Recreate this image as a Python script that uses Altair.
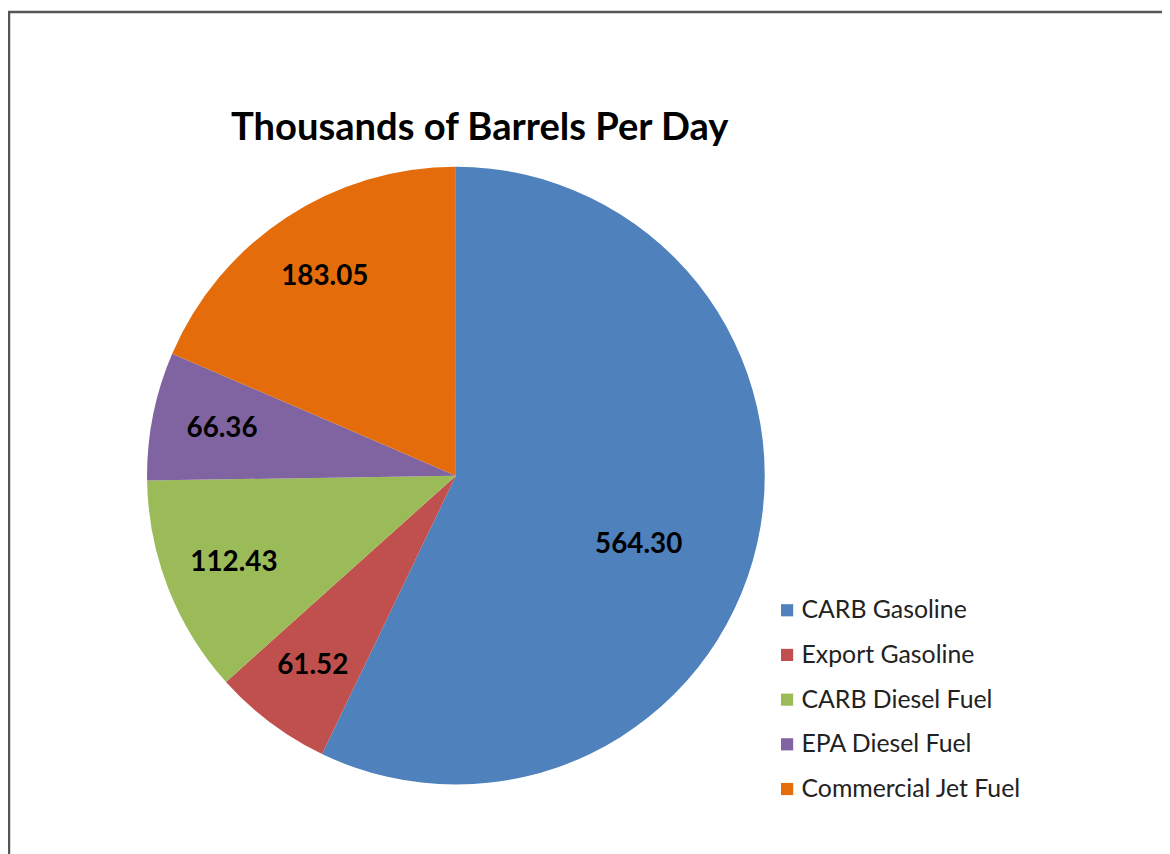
import altair as alt
import pandas as pd

categories = ["CARB Gasoline", "Export Gasoline", "CARB Diesel Fuel", "EPA Diesel Fuel", "Commercial Jet Fuel"]
values = [564.30, 61.52, 112.43, 66.36, 183.05]
title_text = "Thousands of Barrels Per Day"

colors = ["#4F81BD", "#C0504D", "#9BBB59", "#8064A2", "#E46C0A"]

df = pd.DataFrame({"category": categories, "value": values, "idx": list(range(len(values)))})
df["label"] = [f"{v:.2f}" for v in values]

W, H = 1162, 846
CX, CY, R = 451, 468, 311
FONT = "Lato"

base = alt.Chart(df).encode(
    theta=alt.Theta("value:Q", stack=True),
    order=alt.Order("idx:Q"),
    x=alt.value(CX),
    y=alt.value(CY),
)

pie = base.mark_arc(outerRadius=R, stroke=None).encode(
    color=alt.Color(
        "category:N",
        sort=categories,
        scale=alt.Scale(domain=categories, range=colors),
        legend=alt.Legend(
            title=None,
            orient="none",
            legendX=772,
            legendY=591,
            symbolType="square",
            symbolSize=150,
            symbolStrokeWidth=0,
            labelFont=FONT,
            labelFontSize=25,
            labelColor="#222222",
            labelOffset=2,
            rowPadding=19,
            labelLimit=400,
        ),
    )
)

labels_small = base.mark_text(
    font=FONT, fontSize=28, fontWeight="bold", color="black", radius=240
).encode(text="ls:N").transform_calculate(ls="datum.value > 300 ? '' : datum.label")

labels_big = base.mark_text(
    font=FONT, fontSize=28, fontWeight="bold", color="black", radius=197, thetaOffset=0.14
).encode(text="lb:N").transform_calculate(lb="datum.value > 300 ? datum.label : ''")

title = alt.Chart(pd.DataFrame({"t": [title_text]})).mark_text(
    font=FONT, fontSize=38.4, fontWeight="bold", color="black", baseline="middle", align="center"
).encode(text="t:N", x=alt.value(475), y=alt.value(118))

border = alt.Chart(pd.DataFrame({"a": [0]})).mark_rect(
    fill=None, stroke="#555555", strokeWidth=2.5
).encode(x=alt.value(1), y=alt.value(1), x2=alt.value(W + 50), y2=alt.value(H + 50))

chart = alt.layer(border, pie, labels_small, labels_big, title).properties(
    width=W, height=H, padding=0, autosize=alt.AutoSizeParams(type="none")
).configure_view(stroke=None)

chart.save("out.html", embed_options={"renderer": "svg", "actions": False})
